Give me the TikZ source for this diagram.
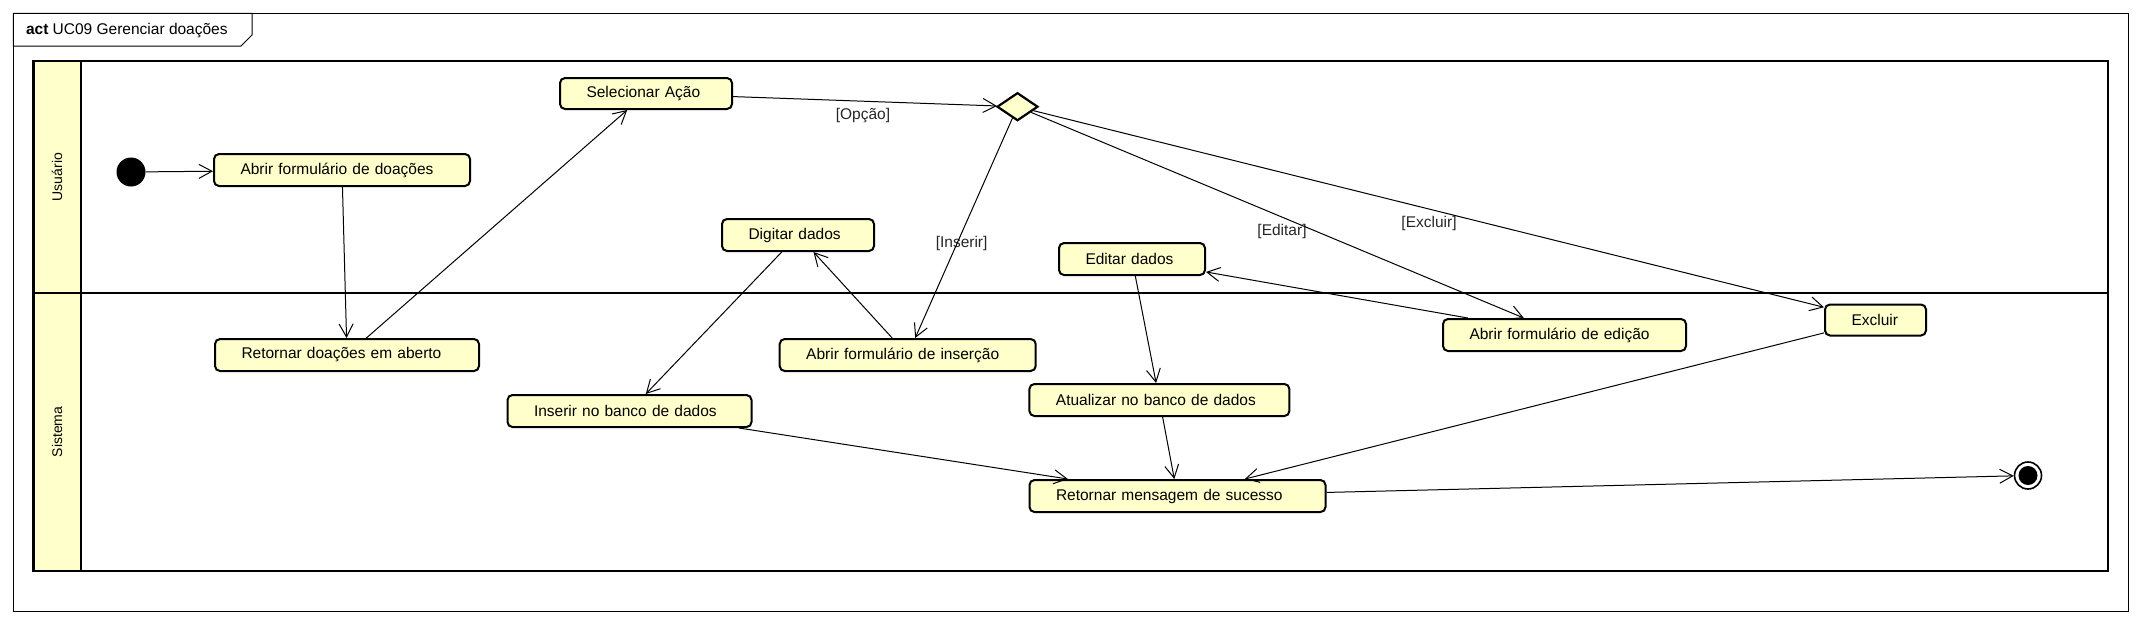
\documentclass[tikz,border=0pt]{standalone}
\usepackage{fontspec}
\setmainfont{Liberation Sans}
\usetikzlibrary{arrows.meta,shapes.geometric}
\definecolor{umlamarelo}{RGB}{255,255,204}

\begin{document}
\begin{tikzpicture}[
    x=1pt, y=-1pt,
    every node/.style={font=\fontsize{15.5}{18}\selectfont},
    acao/.style={draw, line width=2pt, rounded corners=5pt, fill=umlamarelo, minimum height=32pt,
        inner xsep=26.5pt, inner ysep=0pt, text width=#1, align=left},
    decisao/.style={diamond, draw, line width=2.2pt, fill=umlamarelo, minimum width=41pt, minimum height=28pt, inner sep=0pt},
    inicio/.style={circle, fill=black, minimum size=29pt, inner sep=0pt},
    fim/.style={circle, draw, line width=1.6pt, fill=white, minimum size=27pt, inner sep=0pt,
        path picture={\fill[black] (path picture bounding box.center) circle (9.5pt);}},
    fluxo/.style={-{Straight Barb[length=13pt,width=14pt,line width=1pt]}, line width=1pt},
    guarda/.style={text=black!85},
    raia/.style={font=\fontsize{14}{16}\selectfont, rotate=90}
]
\useasboundingbox (0,0) rectangle (2141,625);

% moldura e titulo
\draw[line width=1pt] (13.4,13.3) rectangle (2128.3,611);
\draw[line width=1pt, fill=white] (13.4,13.3) -- (252,13.3) -- (252,35) -- (241,46) -- (13.4,46) -- cycle;
\node[anchor=west] (titulo) at (22.5,31) {\textbf{act} UC09 Gerenciar doações};

% raias
\fill[umlamarelo] (33.5,60.7) rectangle (80.8,571);
\draw[line width=2.2pt] (33.5,60.7) rectangle (2108.3,571);
\draw[line width=2.2pt] (80.8,60.7) -- (80.8,571);
\draw[line width=2.2pt] (33.5,293.3) -- (2108.3,293.3);
\node[raia] (usuario) at (57,177) {Usuário};
\node[raia] (sistema) at (57,432) {Sistema};

% atividades
\node[inicio] (ini) at (131,172) {};
\node[acao=203pt] (abrirDoacoes) at (342,170) {Abrir formulário de doações};
\node[acao=211pt] (retDoacoes) at (347,355) {Retornar doações em aberto};
\node[acao=119pt, minimum height=31pt] (selAcao) at (646,93.5) {Selecionar Ação};
\node[decisao] (opcao) at (1017.5,106.7) {};
\node[acao=99pt] (digitar) at (798,235) {Digitar dados};
\node[acao=93pt] (editar) at (1132,259) {Editar dados};
\node[acao=203pt] (abrirIns) at (907.7,355) {Abrir formulário de inserção};
\node[acao=190pt] (abrirEdi) at (1564.5,335) {Abrir formulário de edição};
\node[acao=48pt, minimum height=31pt] (excluir) at (1875.5,320) {Excluir};
\node[acao=191pt] (inserirBD) at (629.5,411) {Inserir no banco de dados};
\node[acao=207pt] (atualizarBD) at (1159.4,400) {Atualizar no banco de dados};
\node[acao=243pt] (retMsg) at (1177.5,496) {Retornar mensagem de sucesso};
\node[fim] (fim) at (2028,475.5) {};

% guardas
\node[guarda] (gOpcao) at (863,115.7) {[Opção]};
\node[guarda] (gInserir) at (961.6,243) {[Inserir]};
\node[guarda] (gEditar) at (1282,231.7) {[Editar]};
\node[guarda] (gExcluir) at (1429,223.5) {[Excluir]};

% fluxos
\draw[fluxo] (ini) -- (abrirDoacoes);
\draw[fluxo] (abrirDoacoes) -- (retDoacoes);
\draw[fluxo] (retDoacoes) -- (selAcao);
\draw[fluxo] (selAcao) -- (opcao);
\draw[fluxo] (opcao) -- (abrirIns);
\draw[fluxo] (opcao) -- (abrirEdi);
\draw[fluxo] (opcao) -- (excluir);
\draw[fluxo] (abrirIns) -- (digitar);
\draw[fluxo] (digitar) -- (inserirBD);
\draw[fluxo] (abrirEdi) -- (editar);
\draw[fluxo] (editar) -- (atualizarBD);
\draw[fluxo] (inserirBD) -- (retMsg);
\draw[fluxo] (atualizarBD) -- (retMsg);
\draw[fluxo] (excluir) -- (retMsg);
\draw[fluxo] (retMsg) -- (fim);
\end{tikzpicture}
\end{document}
